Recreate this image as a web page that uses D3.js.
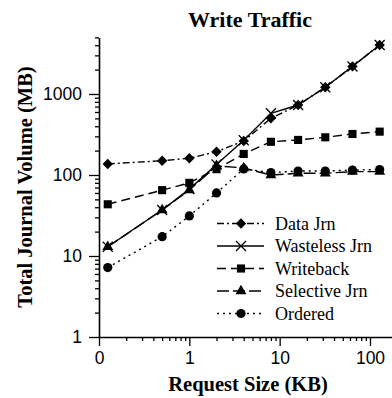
<!DOCTYPE html>
<html>
<head>
<meta charset="utf-8">
<script src="https://cdn.jsdelivr.net/npm/d3@7"></script>
<style>
  body { margin: 0; background: #fff; }
  svg { display: block; font-family: "Liberation Serif", "Times New Roman", serif; }
</style>
</head>
<body>
<svg width="392" height="398"></svg>
<script>
// request sizes in KB
const sizes = [0.125, 0.5, 1, 2, 4, 8, 16, 32, 64, 128];
const dataJrn = [137, 150, 161, 194, 263, 501, 731, 1210, 2190, 4030];
const wasteless = [13, 37, 67, 135, 268, 578, 731, 1210, 2190, 4030];
const writeback = [43.5, 65, 80, 118, 182, 257, 271, 292, 321, 343];
const selective = [13, 37, 65, 130, 122, 100, 105, 105, 110, 110];
const ordered = [7.2, 17.3, 31.2, 60, 119, 107, 112, 112, 115, 117];

const xTicks = [0.1, 1, 10, 100];
const xTickLabels = ["0", "1", "10", "100"];
const yTicks = [1, 10, 100, 1000];

const series = [
  {name: "Data Jrn", values: dataJrn, dash: "7,3,2,3", mark: "diamond"},
  {name: "Wasteless Jrn", values: wasteless, dash: null, mark: "cross"},
  {name: "Writeback", values: writeback, dash: "9,5", mark: "square"},
  {name: "Selective Jrn", values: selective, dash: "12,4", mark: "triangle"},
  {name: "Ordered", values: ordered, dash: "2,4", mark: "circle"}
];

const svg = d3.select("svg");

const x = d3.scaleLog().domain([0.1, 200]).range([99, 99 + Math.log10(2000) * 90.33]);
const y = d3.scaleLog().domain([1, 5000]).range([337, 337 - Math.log10(5000) * 81]);

// minor ticks: 2..9 of every decade
const minorX = d3.range(-1, 3).flatMap(e => d3.range(2, 10).map(m => m * Math.pow(10, e))).filter(v => v <= 200);
const minorY = d3.range(0, 4).flatMap(e => d3.range(2, 10).map(m => m * Math.pow(10, e))).filter(v => v <= 5000);

// x axis
svg.append("g")
   .attr("transform", "translate(0,337)")
   .call(d3.axisBottom(x).tickValues(minorX).tickSize(4).tickFormat(""))
   .call(g => g.select(".domain").remove());
svg.append("g")
   .attr("transform", "translate(0,337)")
   .call(d3.axisBottom(x).tickValues(xTicks).tickSize(9).tickPadding(6).tickSizeOuter(0)
           .tickFormat((d, i) => xTickLabels[i]))
   .call(g => g.select(".domain").attr("stroke-width", 1.6))
   .selectAll("text").attr("font-size", 17.5).attr("fill", "#000");

// y axis
svg.append("g")
   .attr("transform", "translate(99,0)")
   .call(d3.axisLeft(y).tickValues(minorY).tickSize(4).tickFormat(""))
   .call(g => g.select(".domain").remove());
svg.append("g")
   .attr("transform", "translate(99,0)")
   .call(d3.axisLeft(y).tickValues(yTicks).tickSize(10).tickPadding(7).tickSizeOuter(0)
           .tickFormat(d3.format("d")))
   .call(g => g.select(".domain").attr("stroke-width", 1.6))
   .selectAll("text").attr("font-size", 17.5).attr("fill", "#000");

svg.selectAll(".tick line").attr("stroke-width", 1.3);

// titles
svg.append("text").attr("x", 250).attr("y", 26.5).attr("text-anchor", "middle")
   .attr("font-size", 22).attr("font-weight", "bold").text("Write Traffic");
svg.append("text").attr("x", 248).attr("y", 391).attr("text-anchor", "middle")
   .attr("font-size", 20.5).attr("font-weight", "bold").text("Request Size (KB)");
svg.append("text").attr("transform", "translate(32,187) rotate(-90)").attr("text-anchor", "middle")
   .attr("font-size", 20.5).attr("font-weight", "bold").text("Total Journal Volume (MB)");

const drawMark = (sel, kind) => {
  if (kind === "circle") return sel.append("circle").attr("r", 4.6).attr("fill", "#000");
  if (kind === "cross") return sel.append("path").attr("d", "M-5,-5L5,5M-5,5L5,-5")
                                  .attr("stroke", "#000").attr("stroke-width", 1.3).attr("fill", "none");
  if (kind === "diamond") return sel.append("path").attr("d", "M0,-5.2L5.2,0L0,5.2L-5.2,0Z").attr("fill", "#000");
  const t = {square: d3.symbolSquare, triangle: d3.symbolTriangle}[kind];
  const s = {square: 66, triangle: 52}[kind];
  return sel.append("path").attr("d", d3.symbol(t, s)()).attr("fill", "#000");
};

const line = d3.line().x((d, i) => x(sizes[i])).y(d => y(d));

series.forEach(s => {
  svg.append("path")
     .attr("d", line(s.values))
     .attr("fill", "none")
     .attr("stroke", "#000")
     .attr("stroke-width", 1.4)
     .attr("stroke-dasharray", s.dash);
  svg.append("g").selectAll("g")
     .data(s.values)
     .enter()
     .append("g")
       .attr("transform", (d, i) => `translate(${x(sizes[i])},${y(d)})`)
       .each(function() { drawMark(d3.select(this), s.mark); });
});

// legend
const legend = svg.append("g").selectAll("g")
  .data(series)
  .enter()
  .append("g")
    .attr("transform", (d, i) => `translate(0,${223.5 + i * 22.5})`);
legend.append("line").attr("x1", 217).attr("x2", 264)
      .attr("stroke", "#000").attr("stroke-width", 1.4)
      .attr("stroke-dasharray", d => d.dash);
legend.append("g").attr("transform", "translate(241,0)")
      .each(function(d) { drawMark(d3.select(this), d.mark); });
legend.append("text").attr("x", 275).attr("dy", "0.35em")
      .attr("font-size", 18).text(d => d.name);
</script>
</body>
</html>
